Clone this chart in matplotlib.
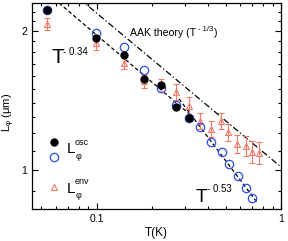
import numpy as np
import matplotlib
matplotlib.use("Agg")
import matplotlib.pyplot as plt
from matplotlib.ticker import LogLocator, NullFormatter, FixedLocator, FixedFormatter

plt.rcParams['font.family'] = ['Liberation Sans', 'DejaVu Sans']
plt.rcParams['mathtext.fontset'] = 'custom'
plt.rcParams['mathtext.rm'] = 'Liberation Sans'
plt.rcParams['mathtext.it'] = 'Liberation Sans'

# Data
T_black = [0.0537, 0.0988, 0.1399, 0.1817, 0.2245, 0.2707, 0.318]
L_black = [2.22, 1.931, 1.774, 1.574, 1.528, 1.369, 1.296]

T_blue = [0.0537, 0.0988, 0.1399, 0.1817, 0.2245, 0.2707, 0.318, 0.365,
          0.418, 0.476, 0.521, 0.582, 0.647, 0.697]
L_blue = [2.22, 1.980, 1.846, 1.646, 1.504, 1.383, 1.296, 1.239,
          1.150, 1.094, 1.030, 0.971, 0.914, 0.870]

T_env = [0.0537, 0.0988, 0.1399, 0.1817, 0.2245, 0.2707, 0.318, 0.365,
         0.418, 0.474, 0.517, 0.578, 0.647, 0.697, 0.760]
L_env = [2.07, 1.883, 1.705, 1.558, 1.528, 1.475, 1.375, 1.277,
         1.227, 1.277, 1.208, 1.138, 1.127, 1.094, 1.088]
E_env = [0.06, 0.06, 0.05, 0.05, 0.05, 0.06, 0.065, 0.05,
         0.05, 0.05, 0.05, 0.05, 0.055, 0.06, 0.06]

# Fit lines (power laws)
fit1_A, fit1_p, fit1_range = 0.896, 0.34, (0.055, 0.33)
fit2_A, fit2_p, fit2_range = 0.726, 0.53, (0.28, 0.75)
aak_A, aak_p, aak_range = 1.015, 1.0 / 3.0, (0.08, 1.0)

W, H = 288, 241
fig = plt.figure(figsize=(W / 100, H / 100), dpi=100)
ax = fig.add_axes([32 / W, 1 - 209 / H, 249 / W, 206 / H])

red = '#f07a6a'
blue = '#2c4fe8'

def powline(A, p, rng):
    t = np.logspace(np.log10(rng[0]), np.log10(rng[1]), 50)
    return t, A * t ** (-p)

t, l = powline(aak_A, aak_p, aak_range)
ax.plot(t, l, color='black', lw=0.9, ls=(0, (5, 2, 1, 2)), zorder=1)
t, l = powline(fit1_A, fit1_p, fit1_range)
ax.plot(t, l, color='black', lw=0.9, ls=(0, (3, 2)), zorder=1)
t, l = powline(fit2_A, fit2_p, fit2_range)
ax.plot(t, l, color='black', lw=0.9, ls=(0, (3, 2)), zorder=1)

ax.errorbar(T_env, L_env, yerr=E_env, fmt='^', mfc='none', mec=red, ecolor=red,
            ms=5, mew=0.8, elinewidth=0.8, capsize=2.2, capthick=0.8, zorder=2)
ax.plot(T_blue, L_blue, 'o', mfc='none', mec=blue, ms=6, mew=0.9, zorder=3)
ax.plot(T_black, L_black, 'o', color='black', ms=5, zorder=4)

ax.set_xscale('log')
ax.set_yscale('log')
ax.set_xlim(0.0446, 1.0)
ax.set_ylim(0.823, 2.30)

ax.xaxis.set_major_locator(FixedLocator([0.1, 1]))
ax.xaxis.set_major_formatter(FixedFormatter(['0.1', '1']))
ax.xaxis.set_minor_locator(LogLocator(base=10, subs=np.arange(2, 10)))
ax.xaxis.set_minor_formatter(NullFormatter())
ax.yaxis.set_major_locator(FixedLocator([1, 2]))
ax.yaxis.set_major_formatter(FixedFormatter(['1', '2']))
ax.yaxis.set_minor_locator(FixedLocator([0.9, 1.1, 1.2, 1.3, 1.4, 1.5, 1.6, 1.7, 1.8, 1.9, 2.1, 2.2]))
ax.yaxis.set_minor_formatter(NullFormatter())

ax.tick_params(which='both', direction='in', top=True, right=True, labelsize=7.5, width=0.8)
ax.tick_params(which='major', length=4)
ax.tick_params(which='minor', length=2.5)
for s in ax.spines.values():
    s.set_linewidth(0.9)

ax.set_xlabel('T(K)', fontsize=8.5, labelpad=2)
ax.set_ylabel(r'L$_{\varphi}$ (μm)', fontsize=8)
ax.yaxis.set_label_coords(-0.06, 0.47)

def ptext(x, y, s, size):
    return fig.text(x / W, 1 - y / H, s, fontsize=size, ha='left', va='baseline')

renderer = fig.canvas.get_renderer()

def right_px(txt):
    bb = txt.get_window_extent(renderer)
    return bb.x1

ptext(51, 63, 'T', 15)
ptext(63, 55, '- 0.34', 7)
ptext(196, 202, 'T', 13.5)
ptext(207, 192, '- 0.53', 7)
t1 = ptext(130, 36, 'AAK theory (T', 7.6)
xs = right_px(t1) + 1.5
t2 = ptext(xs, 31, '- 1/3', 5.5)
xe = right_px(t2) + 1
ptext(xe, 36, ')', 7.6)

# legend
def pmark(x, y, **kw):
    ax.plot([x / W], [1 - y / H], transform=fig.transFigure, clip_on=False, **kw)

pmark(54, 142, marker='o', color='black', ms=5, ls='none')
pmark(54, 157, marker='o', mfc='none', mec=blue, ms=6, mew=0.9, ls='none')
pmark(54, 187, marker='^', mfc='none', mec=red, ms=5, mew=0.8, ls='none')
ptext(67, 153, 'L', 11)
ptext(75, 145, 'osc', 6.5)
ptext(75.5, 159, 'φ', 6.5)
ptext(67, 193, 'L', 11)
ptext(75, 184, 'env', 6.5)
ptext(75.5, 198, 'φ', 6.5)

fig.savefig('out.png', dpi=100)
